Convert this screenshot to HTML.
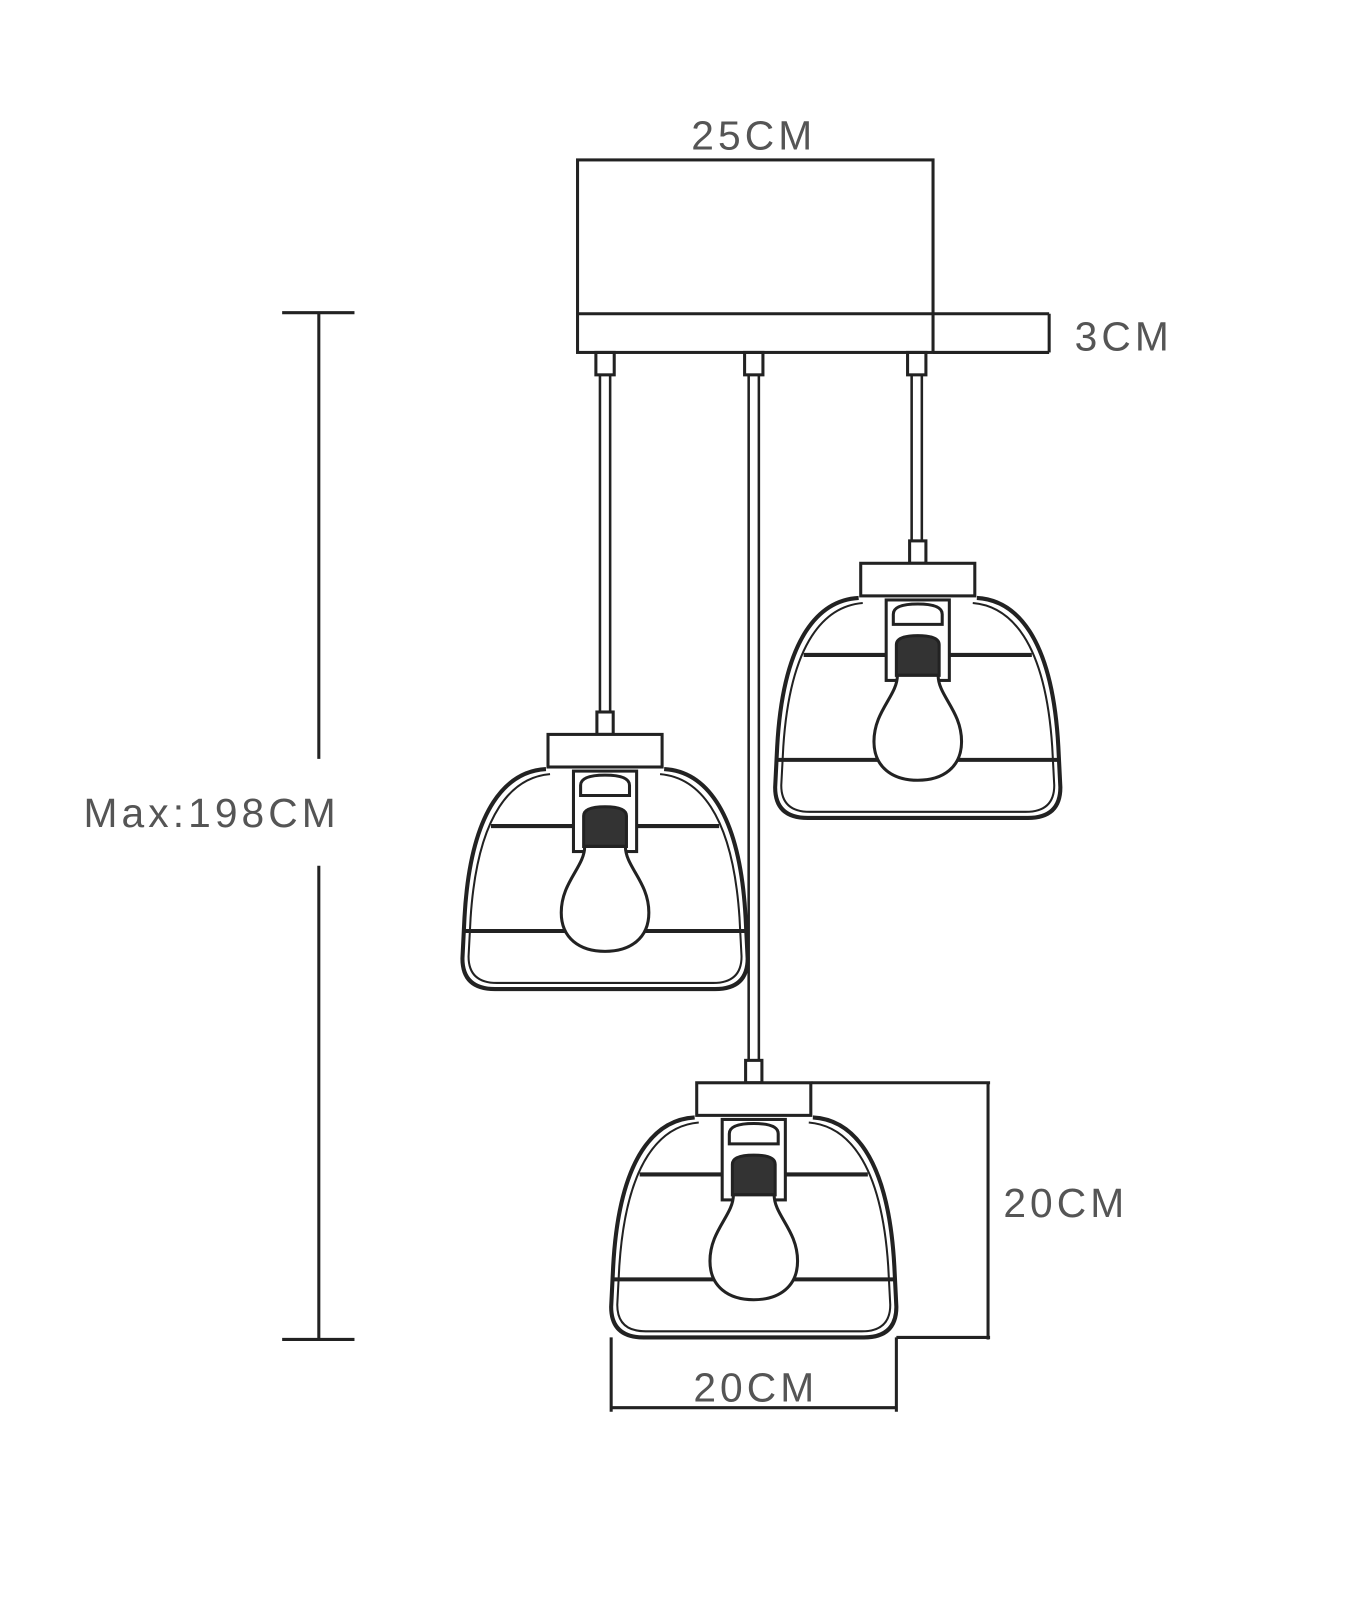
<!DOCTYPE html>
<html><head><style>
body{margin:0;background:#fff}
svg text{font-family:"Liberation Sans",sans-serif;fill:#555;font-size:40px;letter-spacing:4px}
</style></head><body>
<svg width="1369" height="1600" viewBox="0 0 1369 1600" xmlns="http://www.w3.org/2000/svg">
<defs>
<g id="lamp" fill="none" stroke="#222" stroke-width="3">
  <rect x="-8" y="-22" width="16" height="22" fill="#fff"/>
  <rect x="-56" y="0" width="112" height="32" fill="#fff"/>
  <path d="M-58 34 C-95 36 -132 70 -138 180 L-140 220 Q-140 250 -108 250 L108 250 Q140 250 140 220 L138 180 C132 70 95 36 58 34" stroke-width="4"/>
  <path d="M-54 39 C-90 42 -125 75 -132 180 L-134 218 Q-134 244 -106 244 L106 244 Q134 244 134 218 L132 180 C125 75 90 42 54 39" stroke-width="2"/>
  <line x1="-112" y1="90" x2="112" y2="90" stroke-width="4"/>
  <line x1="-138" y1="193" x2="138" y2="193" stroke-width="4"/>
  <rect x="-31" y="36" width="62" height="79" fill="#fff"/>
  <path d="M-24 60 L-24 50 Q-24 40 0 40 Q24 40 24 50 L24 60 Z"/>
  <path d="M-21 110 L-21 80 Q-21 71 0 71 Q21 71 21 80 L21 110 Z" fill="#333"/>
  <path d="M-20 110 C-20 130 -43 145 -43 175 C-43 200 -25 213 0 213 C25 213 43 200 43 175 C43 145 20 130 20 110 Z" fill="#fff"/>
</g>
</defs>
<g transform="scale(1.0186)">
<g fill="none" stroke="#222" stroke-width="3">
  <rect x="567" y="157" width="349" height="189"/>
  <line x1="567" y1="308" x2="1030" y2="308"/>
  <line x1="916" y1="346" x2="1030" y2="346"/>
  <line x1="1030" y1="308" x2="1030" y2="346"/>
  <rect x="585" y="346" width="18" height="22"/>
  <rect x="731" y="346" width="18" height="22"/>
  <rect x="891" y="346" width="18" height="22"/>
  <path d="M589 368V700M599 368V700M735 368V1042M745 368V1042M895 368V531M905 368V531" stroke-width="2.5"/>
  <line x1="313" y1="307" x2="313" y2="745"/>
  <line x1="313" y1="850" x2="313" y2="1315"/>
  <line x1="277" y1="307" x2="348" y2="307"/>
  <line x1="277" y1="1315" x2="348" y2="1315"/>
  <line x1="600" y1="1313" x2="600" y2="1386"/>
  <line x1="880" y1="1313" x2="880" y2="1386"/>
  <line x1="600" y1="1382" x2="880" y2="1382"/>
  <line x1="797" y1="1063" x2="972" y2="1063"/>
  <line x1="880" y1="1313" x2="972" y2="1313"/>
  <line x1="970" y1="1063" x2="970" y2="1315"/>
</g>
<use href="#lamp" transform="translate(594,721)"/>
<use href="#lamp" transform="translate(901,553)"/>
<use href="#lamp" transform="translate(740,1063)"/>
<text x="740" y="147" text-anchor="middle">25CM</text>
<text x="1055" y="344">3CM</text>
<text x="82" y="812">Max:198CM</text>
<text x="742" y="1376" text-anchor="middle">20CM</text>
<text x="985" y="1195">20CM</text>
</g>
</svg>
</body></html>
